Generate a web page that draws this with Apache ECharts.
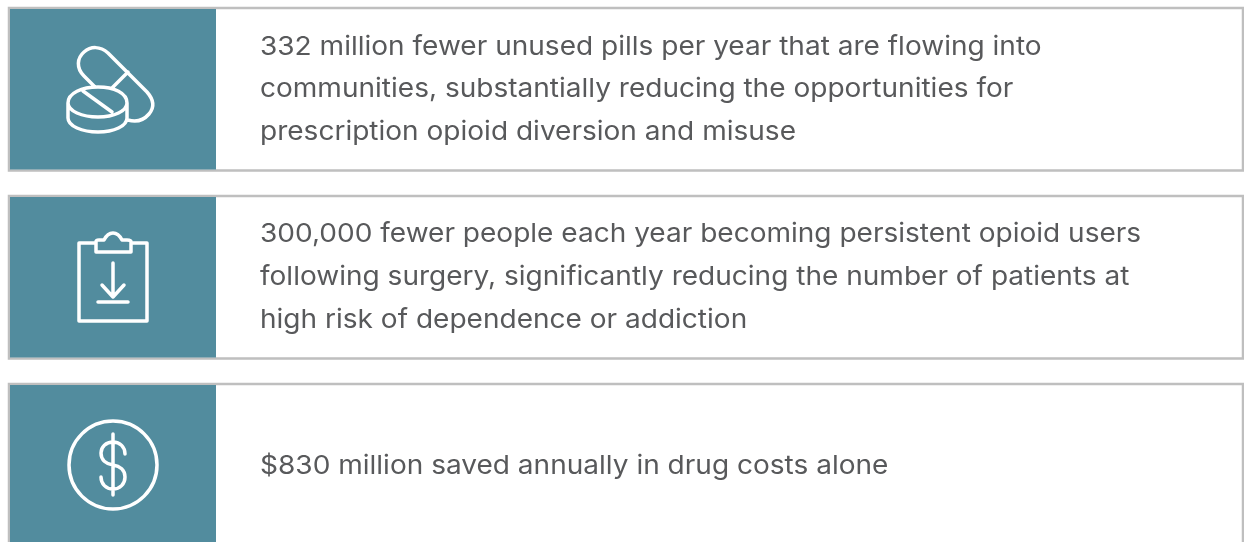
<!DOCTYPE html>
<html>
<head>
<meta charset="utf-8">
<style>html,body{margin:0;padding:0;background:#fff}#main{width:1244px;height:542px}</style>
<script src="https://cdn.jsdelivr.net/npm/echarts@6/dist/echarts.min.js"></script>
</head>
<body>
<div id="main"></div>
<script>
var line1 = ['332 million fewer unused pills per year that are flowing into',
  'communities, substantially reducing the opportunities for',
  'prescription opioid diversion and misuse'];
var line2 = ['300,000 fewer people each year becoming persistent opioid users',
  'following surgery, significantly reducing the number of patients at',
  'high risk of dependence or addiction'];
var line3 = ['$830 million saved annually in drug costs alone'];

var pillIcon = 'M95 87 L84 76 C76 68 77 58 84 52 C91 46 100 46 108 53 L147 92 C154 100 155 107 149 114 C143 121 135 122 128 120 M128 72 L112 88 M83 91 L112 112 M68 103 C68 93 82 87 98 87 C114 87 127 93 127 103 C127 111 114 117 98 117 C82 117 68 111 68 103 M68 103 L68 118 C68 126 82 132 98 132 C114 132 127 126 127 118 L127 103';
var clipIcon = 'M96 243 L79 243 L79 321 L147 321 L147 243 L131 243 M96 252 L131 252 L131 242 C131 240 129 240 127 240 L122 240 C120 236 117 233 113 233 C109 233 106 236 104 240 L99 240 C97 240 96 240 96 242 Z M113 263 L113 297 M102 285 L113 297 L124 285 M98 302 L128 302';
var dollarIcon = 'M157 465 A44 44 0 1 1 69 465 A44 44 0 1 1 157 465 Z M113 434 L113 495 M125 454 C125 447 120 442 113 442 C106 442 101 447 101 453 C101 460 106 464 113 465 C120 466 125 470 125 477 C125 484 120 489 113 489 C106 489 101 484 101 477';

var teal = '#528c9e', gray = '#bfbfbf', textColor = '#58595b';
var rows = [
  {top: 8, bottom: 170.5, lines: line1, icon: pillIcon, lineY: [47, 89, 132]},
  {top: 196, bottom: 358.5, lines: line2, icon: clipIcon, lineY: [234, 277, 320]},
  {top: 384, bottom: 560, lines: line3, icon: dollarIcon, lineY: [466]}
];

var myChart = echarts.init(document.getElementById('main'));
myChart.setOption({
  animation: false,
  series: [{
    type: 'custom',
    coordinateSystem: 'none',
    silent: true,
    data: rows.map(function (r, i) { return [i]; }),
    renderItem: function (params) {
      var r = rows[params.dataIndex];
      var kids = [
        {type: 'rect', shape: {x: 9, y: r.top, width: 1234, height: r.bottom - r.top},
          style: {fill: '#fff', stroke: gray, lineWidth: 2.5}},
        {type: 'rect', shape: {x: 10, y: r.top + 1, width: 206, height: r.bottom - r.top - 2},
          style: {fill: teal}},
        {type: 'path', shape: {pathData: r.icon, layout: 'none'},
          style: {fill: null, stroke: '#fff', lineWidth: 3.5, lineCap: 'round', lineJoin: 'round'}}
      ];
      r.lines.forEach(function (t, i) {
        // the original face is wider than anything installed, so stretch Inter a bit
        kids.push({type: 'text', x: 260, y: r.lineY[i], scaleX: 1.078, style: {
          text: t, fill: textColor, font: '26px Inter',
          verticalAlign: 'middle', textAlign: 'left'}});
      });
      return {type: 'group', children: kids};
    }
  }]
});
</script>
</body>
</html>
